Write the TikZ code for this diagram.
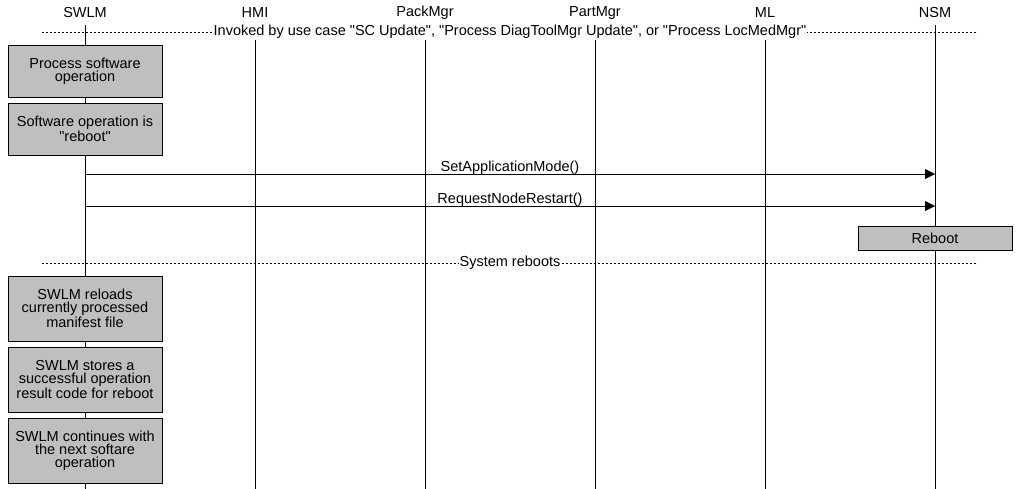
\documentclass[tikz,border=0pt]{standalone}
\usepackage{fontspec}
\setmainfont{Liberation Sans}
\usetikzlibrary{arrows.meta,positioning}

\begin{document}
\begin{tikzpicture}[x=1pt, y=-1pt,
    actor/.style={font=\fontsize{14.5}{13}\selectfont, inner sep=0pt},
    life/.style={line width=0.8pt},
    act/.style={draw, fill=gray!50, line width=0.8pt, minimum width=154pt,
                minimum height=#1, align=center, inner sep=1pt,
                font=\fontsize{14.5}{13}\selectfont},
    act/.default=52pt,
    msg/.style={-{Triangle[length=10pt, width=10pt]}, line width=0.8pt},
    mlbl/.style={font=\fontsize{14.5}{13}\selectfont, inner sep=0pt,
                 anchor=base, yshift=2.5pt},
    sep/.style={line width=0.8pt, dash pattern=on 2pt off 2pt},
    slbl/.style={font=\fontsize{14.5}{13}\selectfont, fill=white, inner sep=1pt}
]
    \useasboundingbox (0,0) rectangle (1020,489);

    % Lifelines
    \foreach \nm/\txt [count=\i from 0] in {swlm/SWLM, hmi/HMI, pack/PackMgr,
            part/PartMgr, ml/ML, nsm/NSM} {
        \node[actor] (\nm) at (85+170*\i, 13) {\txt};
        \coordinate (\nm top) at (85+170*\i, 25);
        \coordinate (\nm end) at (85+170*\i, 489);
        \draw[life] (\nm top) -- (\nm end);
    }

    % Use case frame
    \coordinate (s1l) at (42, 32);
    \coordinate (s1r) at (978, 32);
    \draw[sep] (s1l) -- (s1r)
        node[slbl, midway] {Invoked by use case \textquotedbl SC Update\textquotedbl, \textquotedbl Process DiagToolMgr Update\textquotedbl, or \textquotedbl Process LocMedMgr\textquotedbl};

    % SWLM activities
    \node[act] (proc) at (85, 71) {Process software\\operation};
    \node[act] (isreboot) at (85, 129) {Software operation is\\\textquotedbl reboot\textquotedbl};

    % Messages
    \coordinate (m1s) at (85, 174);
    \coordinate (m1e) at (935, 174);
    \draw[msg] (m1s) -- (m1e) node[mlbl, midway] {SetApplicationMode()};
    \coordinate (m2s) at (85, 206);
    \coordinate (m2e) at (935, 206);
    \draw[msg] (m2s) -- (m2e) node[mlbl, midway] {RequestNodeRestart()};

    % NSM
    \node[act=24pt] (reboot) at (935, 238) {Reboot};

    % Reboot frame
    \coordinate (s2l) at (42, 263);
    \coordinate (s2r) at (978, 263);
    \draw[sep] (s2l) -- (s2r) node[slbl, midway] {System reboots};

    % After reboot
    \node[act=65pt] (reload) at (85, 308.5) {SWLM reloads\\currently processed\\manifest file};
    \node[act=65pt] (store) at (85, 379.5) {SWLM stores a\\successful operation\\result code for reboot};
    \node[act=65pt] (next) at (85, 450.5) {SWLM continues with\\the next softare\\operation};
\end{tikzpicture}
\end{document}
